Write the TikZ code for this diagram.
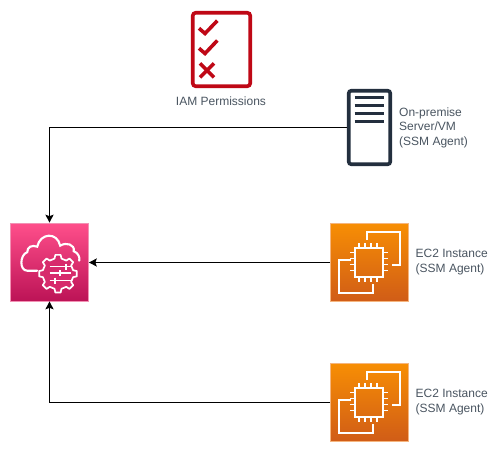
\documentclass[tikz,border=0pt]{standalone}
\usepackage{fontspec}
\setmainfont{Liberation Sans}
\usetikzlibrary{arrows.meta}
\definecolor{awsdark}{HTML}{232F3E}
\definecolor{awsred}{HTML}{BF0816}
\definecolor{labelgrey}{HTML}{4A5561}
\definecolor{pink1}{HTML}{FF4F8B}
\definecolor{pink2}{HTML}{BC1356}
\definecolor{pink3}{HTML}{F291B4}
\definecolor{pinkmid}{HTML}{D72B6C}
\definecolor{orange1}{HTML}{F78E04}
\definecolor{orange2}{HTML}{D05C17}
\definecolor{orange3}{HTML}{F5B57E}
\tikzset{
  x=1pt,y=-1pt,
  conn/.style={draw=black,line width=1pt,-{Stealth[length=8pt,width=8pt,inset=1.5pt]}},
  ssmbox/.style={rectangle,minimum size=78pt,inner sep=0pt,top color=pink1,bottom color=pink2,draw=pink3,line width=.6pt},
  ec2box/.style={rectangle,minimum size=78pt,inner sep=0pt,top color=orange1,bottom color=orange2,draw=orange3,line width=.6pt},
  iconline/.style={draw=white,line width=2pt,line join=miter,fill=none},
  iconthin/.style={draw=white,line width=1.5pt},
  lbl/.style={font=\fontsize{12}{14.6}\selectfont,text=labelgrey,align=left,anchor=west,inner sep=0pt},
  srvline/.style={draw=awsdark,line width=3.2pt},
  iamline/.style={draw=awsred,line width=3.6pt,fill=none},
}
\newcommand{\chipicon}[1]{%
  \begin{scope}[shift={(#1.north west)}]
    \draw[iconline] (36.7,17) -- (36.7,8.7) -- (70,8.7) -- (70,42) -- (61.7,42);
    \draw[iconline] (20.7,37) -- (9,37) -- (9,69.3) -- (42.3,69.3) -- (42.3,60.3);
    \draw[iconline] (25,25) rectangle (53,54);
    \foreach \p in {29,35,41,47}{
      \draw[iconthin] (\p,20) -- (\p,25);
      \draw[iconthin] (\p,54) -- (\p,59);
    }
    \foreach \p in {29.5,35.5,41.5,47.5}{
      \draw[iconthin] (20,\p) -- (25,\p);
      \draw[iconthin] (53,\p) -- (58,\p);
    }
  \end{scope}}
\begin{document}
\begin{tikzpicture}
\useasboundingbox (0,0) rectangle (498,452);
\fill[white] (0,0) rectangle (498,452);

% SSM box
\node[ssmbox] (ssm) at (49.5,262) {};
\begin{scope}[shift={(ssm.north west)}]
  % cloud
  \draw[iconline,line width=2.1pt,line cap=round]
    (27,48) -- (17,48)
    .. controls (9,48) and (9.5,32) .. (17,29.5)
    .. controls (17,24) and (22,22) .. (27,24)
    .. controls (30,10) and (47,9) .. (50,23)
    .. controls (56,19) and (65,22) .. (63.5,28.5)
    .. controls (68,30) and (70,35) .. (69,38);
  % gear
  \begin{scope}[shift={(47.8,51)}]
    \draw[draw=white,line width=1.7pt,line join=round,fill=pinkmid]
      (-13:15.5)
      \foreach \a in {0,45,...,315}{
        -- ({\a-13}:15.5) -- ({\a-8}:19) -- ({\a+8}:19) -- ({\a+13}:15.5)
      } -- cycle;
  \end{scope}
  % sliders
  \draw[iconthin] (39.5,44) -- (60.5,44);
  \draw[iconthin] (39.5,50.5) -- (60.5,50.5);
  \draw[iconthin] (39.5,58) -- (60.5,58);
  \draw[iconthin,line width=2.2pt] (55.5,41) -- (55.5,47);
  \draw[iconthin,line width=2.2pt] (49.5,47.5) -- (49.5,53.5);
  \draw[iconthin,line width=2.2pt] (44.5,55) -- (44.5,61);
\end{scope}

% EC2 boxes
\node[ec2box] (eca) at (369.5,262.5) {};
\node[ec2box] (ecb) at (369.5,402.5) {};
\chipicon{eca}
\chipicon{ecb}
\node[lbl] (la) at (415.5,262) {EC2 Instance\\(SSM Agent)};
\node[lbl] (lb) at (415.5,402) {EC2 Instance\\(SSM Agent)};

% Server
\node[rectangle,draw=awsdark,line width=3.6pt,rounded corners=2.5pt,minimum width=41.5pt,minimum height=73.5pt,inner sep=0pt] (srv) at (369.5,127.5) {};
\draw[srvline] (354.7,97.3) -- (384,97.3);
\draw[srvline] (354.7,105.2) -- (384,105.2);
\draw[srvline] (354.7,113.2) -- (384,113.2);
\draw[srvline] (354.7,121.2) -- (384,121.2);
\node[lbl] (ls) at (399,127.5) {On-premise\\Server/VM\\(SSM Agent)};

% IAM
\node[rectangle,draw=awsred,line width=3.6pt,rounded corners=3pt,minimum width=57.5pt,minimum height=73.5pt,inner sep=0pt] (iam) at (221.5,49.5) {};
\draw[iamline] (199,28.3) -- (205,33.5) -- (217.3,20.7);
\draw[iamline] (199,48.3) -- (205,53.5) -- (217.3,40.5);
\draw[iamline] (200,63.3) -- (214,77.3);
\draw[iamline] (214,63.3) -- (200,77.3);
\node[lbl,anchor=center,align=center] (li) at (221,101.5) {IAM Permissions};

% connectors
\draw[conn] (srv.west) -| (ssm.north);
\draw[conn] (eca.west) -- (ssm.east |- eca.west);
\draw[conn] (ecb.west) -| (ssm.south);
\end{tikzpicture}
\end{document}
